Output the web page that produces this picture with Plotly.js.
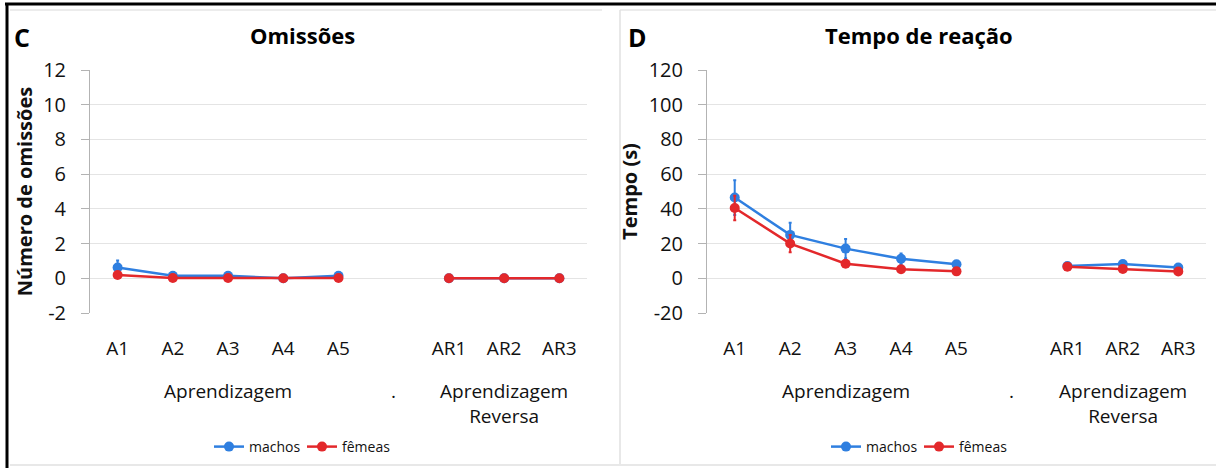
<!DOCTYPE html>
<html>
<head>
<meta charset="utf-8">
<script src="https://cdn.plot.ly/plotly-3.0.1.min.js"></script>
<style>html,body{margin:0;padding:0;background:#fff;}#chart{width:1216px;height:468px;}</style>
</head>
<body>
<div id="chart"></div>
<script>
// ---- data ----
const categories = ['A1', 'A2', 'A3', 'A4', 'A5', '.', 'AR1', 'AR2', 'AR3'];
const tickLabels = ['A1', 'A2', 'A3', 'A4', 'A5', 'AR1', 'AR2', 'AR3'];
const groupLabels = ['Aprendizagem', '.', 'Aprendizagem<br>Reversa'];
const groupCenters = ['A3', '.', 'AR2'];
const seriesNames = ['machos', 'fêmeas'];

const omissoesTicks = [-2, 0, 2, 4, 6, 8, 10, 12];
const omissoesTickText = ['-2', '0', '2', '4', '6', '8', '10', '12'];
const tempoTicks = [-20, 0, 20, 40, 60, 80, 100, 120];
const tempoTickText = ['-20', '0', '20', '40', '60', '80', '100', '120'];

const omissoesMachos = [0.62, 0.15, 0.15, 0.0, 0.15, null, 0.0, 0.0, 0.0];
const omissoesMachosErr = [0.4, 0.1, 0.1, 0.0, 0.1, null, 0.0, 0.0, 0.0];
const omissoesFemeas = [0.19, 0.02, 0.02, 0.0, 0.02, null, 0.0, 0.0, 0.0];
const omissoesFemeasErr = [0.1, 0.0, 0.0, 0.0, 0.0, null, 0.0, 0.0, 0.0];

const tempoMachos = [46.5, 25.0, 17.1, 11.3, 8.1, null, 7.1, 8.2, 6.2];
const tempoMachosErr = [10.0, 7.0, 5.5, 3.0, 1.5, null, 1.0, 1.0, 1.0];
const tempoFemeas = [40.5, 20.0, 8.4, 5.2, 4.0, null, 6.7, 5.4, 3.9];
const tempoFemeasErr = [7.0, 5.0, 1.5, 1.0, 1.0, null, 0.8, 0.8, 0.8];

// ---- style ----
const BLUE = '#2F7FE0';
const RED = '#E3282B';
const FONT = 'Open Sans, sans-serif';
const TXT = '#111111';
const W = 1216, H = 468;
const px = v => v / W;
const py = v => 1 - v / H;

function series(x, y, err, name, color, xa, ya, legend) {
  return {
    type: 'scatter', mode: 'lines+markers', x: x, y: y, name: name,
    xaxis: xa, yaxis: ya, legend: legend,
    line: {color: color, width: 2.5},
    marker: {color: color, size: 10},
    error_y: {type: 'data', array: err, visible: true, color: color, thickness: 2, width: 1.5},
    hoverinfo: 'x+y+name'
  };
}

const data = [
  series(categories, omissoesMachos, omissoesMachosErr, seriesNames[0], BLUE, 'x', 'y', 'legend'),
  series(categories, omissoesFemeas, omissoesFemeasErr, seriesNames[1], RED, 'x', 'y', 'legend'),
  series(categories, tempoMachos, tempoMachosErr, seriesNames[0], BLUE, 'x2', 'y2', 'legend2'),
  series(categories, tempoFemeas, tempoFemeasErr, seriesNames[1], RED, 'x2', 'y2', 'legend2')
];

function xAxis(domain, anchor) {
  return {
    type: 'category', domain: domain, anchor: anchor,
    categoryorder: 'array', categoryarray: categories,
    range: [-0.5, categories.length - 0.5],
    tickmode: 'array', tickvals: tickLabels, ticktext: tickLabels,
    showgrid: false, showline: false, zeroline: false, ticks: '',
    ticklabelstandoff: 22,
    tickfont: {family: FONT, size: 19, color: TXT},
    fixedrange: true
  };
}
function yAxis(domain, anchor, range, vals, text, title) {
  return {
    domain: domain, anchor: anchor, range: range,
    tickmode: 'array', tickvals: vals, ticktext: text,
    showgrid: true, gridcolor: '#e4e4e4', gridwidth: 1,
    zeroline: false, showline: true, linecolor: '#b3b3b3', linewidth: 1,
    ticks: 'outside', ticklen: 8, tickcolor: '#b3b3b3',
    ticklabelstandoff: 11,
    tickfont: {family: FONT, size: 20, color: TXT},
    title: {text: title, font: {family: FONT, size: 20, color: TXT, weight: 'bold'}, standoff: 5},
    fixedrange: true
  };
}

const yDom = [py(313), py(70)];
const annotations = [];
function addGroups(xref) {
  groupLabels.forEach((g, i) => {
    annotations.push({
      xref: xref, yref: 'paper', x: categories.indexOf(groupCenters[i]), y: py(376),
      yanchor: 'top', xanchor: 'center', text: g, showarrow: false, align: 'center',
      font: {family: FONT, size: 19, color: TXT}
    });
  });
}
addGroups('x');
addGroups('x2');
annotations.push(
  {xref: 'paper', yref: 'paper', x: px(12), y: py(37), xanchor: 'left', yanchor: 'middle',
   text: '<b>C</b>', showarrow: false, font: {family: FONT, size: 25, color: '#000'}},
  {xref: 'paper', yref: 'paper', x: px(626), y: py(37), xanchor: 'left', yanchor: 'middle',
   text: '<b>D</b>', showarrow: false, font: {family: FONT, size: 25, color: '#000'}},
  {xref: 'paper', yref: 'paper', x: px(302), y: py(35), xanchor: 'center', yanchor: 'middle',
   text: '<b>Omissões</b>', showarrow: false, font: {family: FONT, size: 22, color: '#000'}},
  {xref: 'paper', yref: 'paper', x: px(919), y: py(35), xanchor: 'center', yanchor: 'middle',
   text: '<b>Tempo de reação</b>', showarrow: false, font: {family: FONT, size: 22, color: '#000'}}
);

const shapes = [
  {type: 'line', xref: 'paper', yref: 'paper', x0: px(5), x1: 1, y0: py(4), y1: py(4), line: {color: '#000', width: 3}},
  {type: 'line', xref: 'paper', yref: 'paper', x0: px(7), x1: px(7), y0: py(3), y1: 0, line: {color: '#000', width: 3}},
  {type: 'line', xref: 'paper', yref: 'paper', x0: px(10), x1: px(602), y0: py(10), y1: py(10), line: {color: '#e6e6e6', width: 1.5}},
  {type: 'line', xref: 'paper', yref: 'paper', x0: px(620), x1: 1, y0: py(10), y1: py(10), line: {color: '#e6e6e6', width: 1.5}},
  {type: 'line', xref: 'paper', yref: 'paper', x0: px(620), x1: px(620), y0: py(10), y1: py(464), line: {color: '#e0e0e0', width: 1.5}},
  {type: 'line', xref: 'paper', yref: 'paper', x0: px(10), x1: 1, y0: py(465), y1: py(465), line: {color: '#e0e0e0', width: 1.5}}
];

const legendBase = {
  orientation: 'h', xanchor: 'center', yanchor: 'middle', y: py(447),
  font: {family: FONT, size: 14, color: TXT}, bgcolor: 'rgba(0,0,0,0)',
  itemwidth: 30, tracegroupgap: 0, entrywidth: 48, entrywidthmode: 'pixels'
};

const layout = {
  width: W, height: H,
  margin: {l: 0, r: 0, t: 0, b: 0},
  paper_bgcolor: '#fff', plot_bgcolor: '#fff',
  showlegend: true,
  xaxis: xAxis([px(90), px(587)], 'y'),
  yaxis: yAxis(yDom, 'x', [-2, 12], omissoesTicks, omissoesTickText, 'Número de omissões'),
  xaxis2: xAxis([px(707), px(1206)], 'y2'),
  yaxis2: yAxis(yDom, 'x2', [-20, 120], tempoTicks, tempoTickText, 'Tempo (s)'),
  legend: Object.assign({}, legendBase, {x: px(302)}),
  legend2: Object.assign({}, legendBase, {x: px(919)}),
  annotations: annotations,
  shapes: shapes
};

Plotly.newPlot('chart', data, layout, {displayModeBar: false, staticPlot: true});
</script>
</body>
</html>
